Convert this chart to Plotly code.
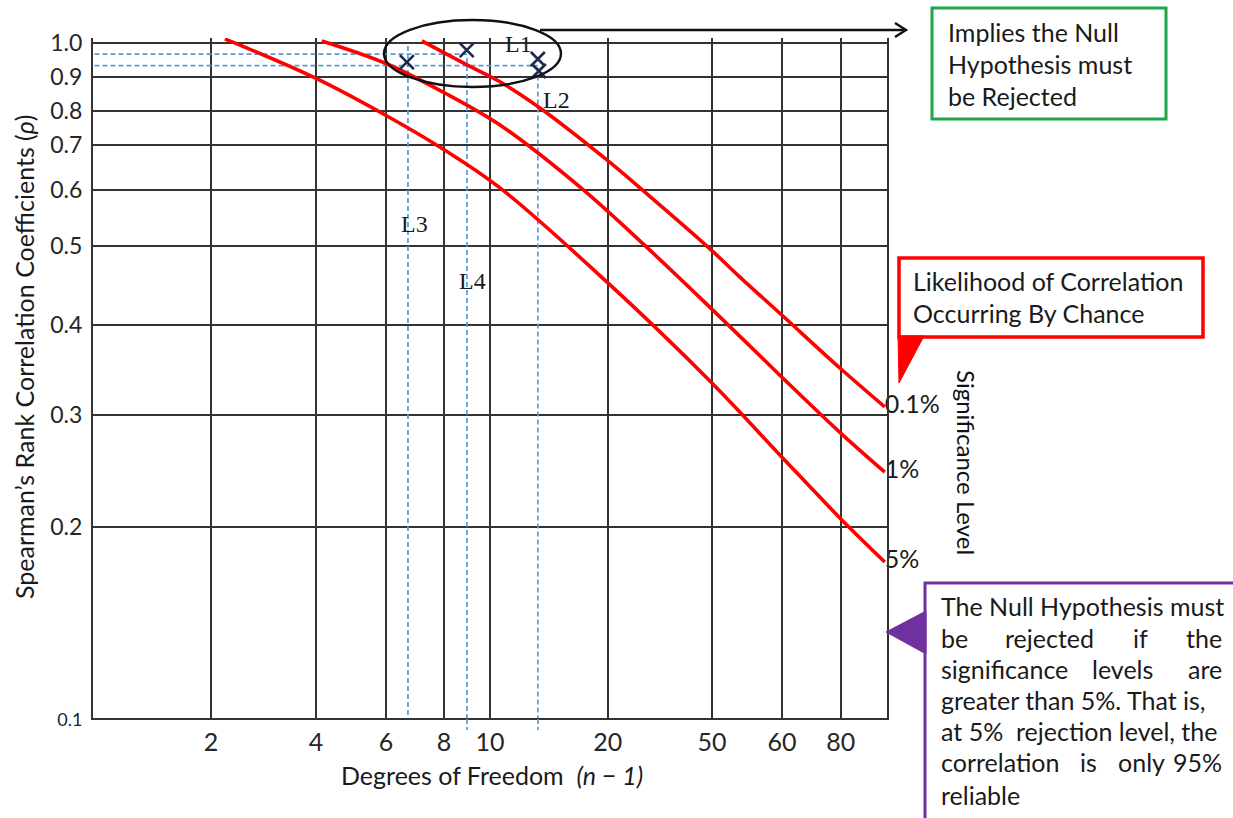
import plotly.graph_objects as go

# ---------------- data ----------------
# critical-value curves: degrees of freedom (n-1) vs Spearman's rho
df_01 = [7.06, 9.18, 11.13, 14.05, 20.75, 25.16, 37.83, 45.05, 57.87, 80.66, 104.8]
rho_01 = [1.007, 0.928, 0.876, 0.801, 0.671, 0.610, 0.4955, 0.450, 0.394, 0.330, 0.289]

df_1 = [3.94, 5.69, 7.98, 11.13, 17.73, 26.20, 38.49, 56.86, 80.66, 104.8]
rho_1 = [1.007, 0.934, 0.846, 0.756, 0.612, 0.498, 0.402, 0.322, 0.265, 0.2314]

df_5 = [2.24, 3.79, 5.76, 7.98, 11.13, 20.75, 38.27, 56.86, 80.66, 104.8]
rho_5 = [1.014, 0.8875, 0.7795, 0.6966, 0.610, 0.4426, 0.3135, 0.2453, 0.1979, 0.1703]

curve_labels = ["0.1%", "1%", "5%"]

# observed points (X marks)
mark_df = [6.47, 9.17, 13.88, 13.96]
mark_rho = [0.937, 0.976, 0.947, 0.909]

# dashed guide lines
guide_h_rho = [0.963, 0.926]
guide_h_end_df = [9.18, 13.88]
guide_v_df = [6.51, 9.18, 13.88]
guide_v_top_rho = [0.99, 0.95, 0.92]
rho_floor = 0.1
df_floor = 1.0

# axes ticks: labels as printed, placed where the hand-drawn grid puts them
x_tick_text = ["2", "4", "6", "8", "10", "20", "50", "60", "80"]
x_tick_pos = [2.065, 3.808, 5.725, 8.03, 10.50, 20.87, 38.27, 57.54, 81.14]
y_tick_text = ['<span style="font-size:18px">0.1</span>', "0.2", "0.3", "0.4", "0.5",
               "0.6", "0.7", "0.8", "0.9", "1.0"]
y_tick_pos = [0.1, 0.1919, 0.2812, 0.3822, 0.5004, 0.6057, 0.7063, 0.7930, 0.8905, 1.0]

# ---------------- layout helpers (pixel -> paper) ----------------
W, H = 1233, 818
PL, PR, PT, PB = 93, 887, 38, 718


def PX(x):
    return (x - PL) / (PR - PL)


def PY(y):
    return (PB - y) / (PB - PT)


FONT = "Lato"
RED = "#ff0000"
BLUE = "#5a9bd3"
NAVY = "#1d2a4d"
TXT = "#1a1a1a"

fig = go.Figure()

# guide lines (dashed blue)
for r, xe in zip(guide_h_rho, guide_h_end_df):
    fig.add_trace(go.Scatter(x=[df_floor, xe], y=[r, r], mode="lines",
                             line=dict(color=BLUE, width=1.7, dash="5px,3px"),
                             hoverinfo="skip", showlegend=False))
for xv, rt in zip(guide_v_df, guide_v_top_rho):
    fig.add_trace(go.Scatter(x=[xv, xv], y=[rt, rho_floor], mode="lines",
                             line=dict(color=BLUE, width=1.7, dash="5px,3px"),
                             hoverinfo="skip", showlegend=False))

# curves
for xs, ys, lab in zip([df_01, df_1, df_5], [rho_01, rho_1, rho_5], curve_labels):
    txt = [""] * (len(xs) - 1) + [lab]
    fig.add_trace(go.Scatter(x=xs, y=ys, mode="lines+text", text=txt,
                             textposition="middle right",
                             textfont=dict(family=FONT, size=25, color=TXT),
                             line=dict(color=RED, width=3.6, shape="spline", smoothing=1.0),
                             cliponaxis=False, showlegend=False, name=lab))

# X marks
fig.add_trace(go.Scatter(x=mark_df, y=mark_rho, mode="markers",
                         marker=dict(symbol="x-thin", size=14,
                                     line=dict(color=NAVY, width=2.6)),
                         cliponaxis=False, showlegend=False))

shapes = []
ann = []

# ellipse + arrow
shapes.append(dict(type="circle", xref="paper", yref="paper",
                   x0=PX(384), x1=PX(561), y0=PY(87), y1=PY(20),
                   line=dict(color="#111", width=2.4)))
shapes.append(dict(type="line", xref="paper", yref="paper",
                   x0=PX(540), x1=PX(906), y0=PY(30), y1=PY(30),
                   line=dict(color="#111", width=2.4)))
shapes.append(dict(type="path", xref="paper", yref="paper",
                   path=f"M {PX(895)},{PY(23)} L {PX(906)},{PY(30)} L {PX(895)},{PY(37)}",
                   line=dict(color="#111", width=2.4)))

# short dashed extensions of guide lines below the frame
for xpix in [467, 538]:
    shapes.append(dict(type="line", xref="paper", yref="paper",
                       x0=PX(xpix), x1=PX(xpix), y0=PY(719), y1=PY(730),
                       line=dict(color=BLUE, width=1.7, dash="5px,3px")))

# green box
shapes.append(dict(type="rect", xref="paper", yref="paper",
                   x0=PX(932), x1=PX(1166), y0=PY(119), y1=PY(8),
                   line=dict(color="#1fa64a", width=3), fillcolor="white"))
for t, yy in zip(["Implies the Null", "Hypothesis must", "be Rejected"], [32, 64, 96]):
    ann.append(dict(text=t, x=PX(946), y=PY(yy), xref="paper", yref="paper",
                    xanchor="left", yanchor="middle", showarrow=False,
                    font=dict(family=FONT, size=25, color=TXT)))

# red box with pointer
shapes.append(dict(type="rect", xref="paper", yref="paper",
                   x0=PX(899), x1=PX(1203), y0=PY(337), y1=PY(258),
                   line=dict(color=RED, width=3.5), fillcolor="white"))
shapes.append(dict(type="path", xref="paper", yref="paper",
                   path=f"M {PX(898)},{PY(336)} L {PX(924)},{PY(336)} L {PX(899)},{PY(383)} Z",
                   fillcolor=RED, line=dict(color=RED, width=1)))
for t, yy in zip(["Likelihood of Correlation", "Occurring By Chance"], [281, 313]):
    ann.append(dict(text=t, x=PX(911), y=PY(yy), xref="paper", yref="paper",
                    xanchor="left", yanchor="middle", showarrow=False,
                    font=dict(family=FONT, size=25, color=TXT)))

# significance level
ann.append(dict(text="Significance Level", x=PX(967), y=PY(462), xref="paper", yref="paper",
                textangle=90, showarrow=False, xanchor="center", yanchor="middle",
                font=dict(family=FONT, size=24, color="#111")))

# purple box with pointer
PURPLE = "#7030a0"
shapes.append(dict(type="rect", xref="paper", yref="paper",
                   x0=PX(925), x1=PX(1245), y0=PY(840), y1=PY(583),
                   line=dict(color=PURPLE, width=3), fillcolor="white"))
shapes.append(dict(type="path", xref="paper", yref="paper",
                   path=f"M {PX(926)},{PY(611)} L {PX(886)},{PY(632)} L {PX(926)},{PY(654)} Z",
                   fillcolor=PURPLE, line=dict(color=PURPLE, width=1)))

L0, R0 = 939, 1224
lines = [
    (606, [("The Null Hypothesis must", L0, "left")]),
    (638, [("be", L0, "left"), ("rejected", 1049, "center"), ("if", 1140, "center"), ("the", R0, "right")]),
    (669, [("significance", L0, "left"), ("levels", 1122, "center"), ("are", R0, "right")]),
    (700, [("greater than 5%. That is,", L0, "left")]),
    (731, [("at 5%\u00a0 rejection level, the", L0, "left")]),
    (762, [("correlation", L0, "left"), ("is", 1088, "center"), ("only", 1141, "center"), ("95%", R0, "right")]),
    (795, [("reliable", L0, "left")]),
]
for yy, words in lines:
    for w, xx, anc in words:
        ann.append(dict(text=w, x=PX(xx), y=PY(yy), xref="paper", yref="paper",
                        xanchor=anc, yanchor="middle", showarrow=False,
                        font=dict(family=FONT, size=25, color=TXT)))

# L labels (serif)
for t, xx, yy in [("L1", 518, 44), ("L2", 556, 100), ("L3", 414, 224), ("L4", 472, 281)]:
    ann.append(dict(text=t, x=PX(xx), y=PY(yy), xref="paper", yref="paper",
                    xanchor="center", yanchor="middle", showarrow=False,
                    font=dict(family="Liberation Serif", size=24, color=TXT)))

# axis titles
ann.append(dict(text="Degrees of Freedom\u00a0 <i>(n \u2212 1)</i>", x=PX(492), y=PY(775),
                xref="paper", yref="paper", showarrow=False, xanchor="center", yanchor="middle",
                font=dict(family=FONT, size=25, color=TXT)))
ann.append(dict(text="Spearman\u2019s Rank Correlation Coefficients (<i>\u03c1</i>)", x=PX(24), y=PY(357),
                xref="paper", yref="paper", showarrow=False, textangle=-90,
                xanchor="center", yanchor="middle",
                font=dict(family=FONT, size=25, color=TXT)))

GRID = "#333333"
fig.update_layout(
    width=W, height=H,
    margin=dict(l=PL, r=W - PR, t=PT, b=H - PB, pad=0),
    paper_bgcolor="white", plot_bgcolor="white",
    shapes=shapes, annotations=ann, showlegend=False,
    xaxis=dict(type="log", range=[0.0165, 2.026], tickvals=x_tick_pos, ticktext=x_tick_text,
               showgrid=True, gridcolor=GRID, gridwidth=1.8, zeroline=False,
               showline=True, linecolor=GRID, linewidth=2, mirror=False,
               ticks="outside", ticklen=1, tickcolor="rgba(0,0,0,0)",
               tickfont=dict(family=FONT, size=25, color="#262626")),
    yaxis=dict(type="log", range=[-1, 0.0074], tickvals=y_tick_pos, ticktext=y_tick_text,
               showgrid=True, gridcolor=GRID, gridwidth=1.8, zeroline=False,
               showline=True, linecolor=GRID, linewidth=2, mirror=True,
               ticks="outside", ticklen=4, tickcolor="rgba(0,0,0,0)",
               tickfont=dict(family=FONT, size=23, color="#262626")),
)

fig.write_html("out.html")
